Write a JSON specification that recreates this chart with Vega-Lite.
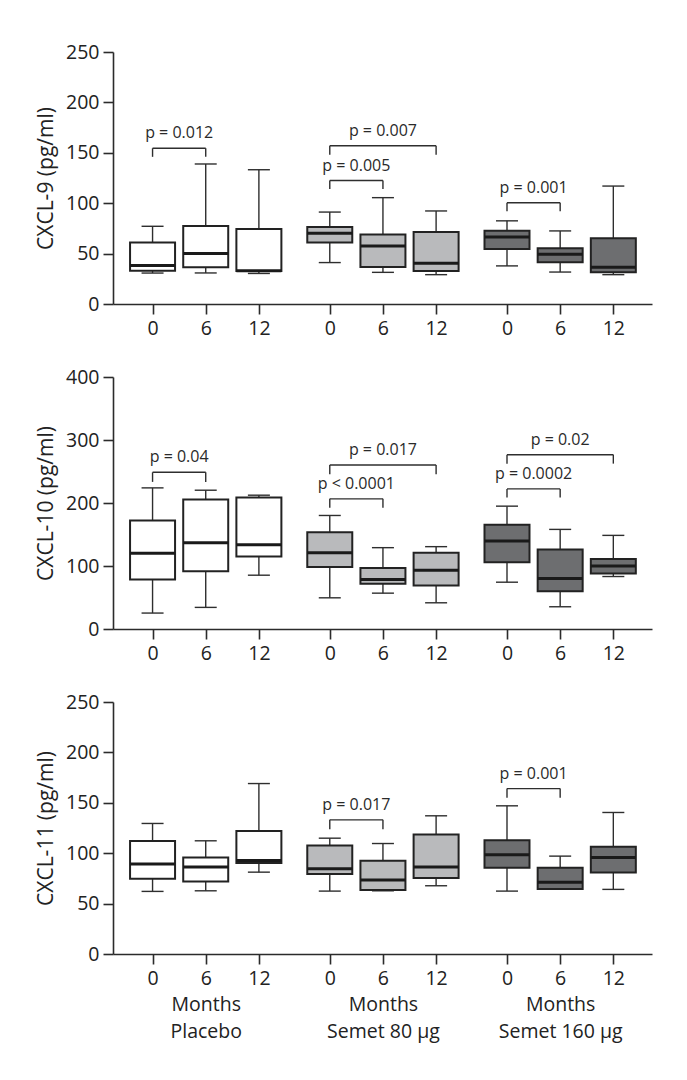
{
  "$schema": "https://vega.github.io/schema/vega-lite/v6.json",
  "padding": {"left": 35, "top": 42, "right": 5, "bottom": 5},
  "background": "white",
  "datasets": {
    "b9": [
      {"group": "Placebo", "month": 0, "pos": 0, "min": 30.7, "q1": 33, "median": 38.2, "q3": 61, "max": 77.1},
      {"group": "Placebo", "month": 6, "pos": 1, "min": 30.8, "q1": 36.5, "median": 50, "q3": 77.4, "max": 138.9},
      {"group": "Placebo", "month": 12, "pos": 2, "min": 30.3, "q1": 32.8, "median": 33, "q3": 74.3, "max": 133.2},
      {"group": "Semet 80 µg", "month": 0, "pos": 3.3333, "min": 41.1, "q1": 60.9, "median": 70.3, "q3": 76.3, "max": 91.2},
      {"group": "Semet 80 µg", "month": 6, "pos": 4.3333, "min": 31.4, "q1": 36.8, "median": 57.6, "q3": 68.9, "max": 105.5},
      {"group": "Semet 80 µg", "month": 12, "pos": 5.3333, "min": 29.1, "q1": 32.7, "median": 40.4, "q3": 71.5, "max": 92.3},
      {"group": "Semet 160 µg", "month": 0, "pos": 6.6667, "min": 37.8, "q1": 54.5, "median": 66.5, "q3": 72.6, "max": 82.5},
      {"group": "Semet 160 µg", "month": 6, "pos": 7.6667, "min": 31.7, "q1": 41.5, "median": 49.4, "q3": 55.4, "max": 72.5},
      {"group": "Semet 160 µg", "month": 12, "pos": 8.6667, "min": 29.1, "q1": 31.5, "median": 36.5, "q3": 65.2, "max": 117}
    ],
    "k9": [
      {"x1": 0, "x2": 1, "xmid": 0.5, "y": 154.5, "ylo": 146, "label": "p = 0.012"},
      {"x1": 3.3333, "x2": 5.3333, "xmid": 4.3333, "y": 157, "ylo": 148, "label": "p = 0.007"},
      {"x1": 3.3333, "x2": 4.3333, "xmid": 3.8333, "y": 122.5, "ylo": 114, "label": "p = 0.005"},
      {"x1": 6.6667, "x2": 7.6667, "xmid": 7.1667, "y": 100.5, "ylo": 92, "label": "p = 0.001"}
    ],
    "b10": [
      {"group": "Placebo", "month": 0, "pos": 0, "min": 25.3, "q1": 78.5, "median": 120.2, "q3": 172.3, "max": 224},
      {"group": "Placebo", "month": 6, "pos": 1, "min": 34.3, "q1": 91.7, "median": 137, "q3": 205.5, "max": 220.3},
      {"group": "Placebo", "month": 12, "pos": 2, "min": 85.4, "q1": 114.9, "median": 133.9, "q3": 208.7, "max": 212.4},
      {"group": "Semet 80 µg", "month": 0, "pos": 3.3333, "min": 49.5, "q1": 98.6, "median": 121.2, "q3": 153.4, "max": 180.2},
      {"group": "Semet 80 µg", "month": 6, "pos": 4.3333, "min": 56.9, "q1": 71.7, "median": 78.5, "q3": 97, "max": 129.1},
      {"group": "Semet 80 µg", "month": 12, "pos": 5.3333, "min": 41.6, "q1": 69, "median": 93.3, "q3": 121.2, "max": 130.7},
      {"group": "Semet 160 µg", "month": 0, "pos": 6.6667, "min": 74.3, "q1": 105.9, "median": 139.7, "q3": 165.5, "max": 195},
      {"group": "Semet 160 µg", "month": 6, "pos": 7.6667, "min": 35.3, "q1": 60.1, "median": 80.1, "q3": 126, "max": 158.1},
      {"group": "Semet 160 µg", "month": 12, "pos": 8.6667, "min": 83.3, "q1": 88, "median": 100.1, "q3": 111.2, "max": 148.6}
    ],
    "k10": [
      {"x1": 0, "x2": 1, "xmid": 0.5, "y": 248.7, "ylo": 233.5, "label": "p = 0.04"},
      {"x1": 3.3333, "x2": 5.3333, "xmid": 4.3333, "y": 260.3, "ylo": 245.6, "label": "p = 0.017"},
      {"x1": 3.3333, "x2": 4.3333, "xmid": 3.8333, "y": 206.6, "ylo": 192.4, "label": "p < 0.0001"},
      {"x1": 6.6667, "x2": 8.6667, "xmid": 7.6667, "y": 276.7, "ylo": 262.5, "label": "p = 0.02"},
      {"x1": 6.6667, "x2": 7.6667, "xmid": 7.1667, "y": 222.4, "ylo": 208.7, "label": "p = 0.0002"}
    ],
    "b11": [
      {"group": "Placebo", "month": 0, "pos": 0, "min": 62.1, "q1": 74.6, "median": 89.2, "q3": 112, "max": 129.5},
      {"group": "Placebo", "month": 6, "pos": 1, "min": 62.7, "q1": 72, "median": 86.2, "q3": 95.8, "max": 112.3},
      {"group": "Placebo", "month": 12, "pos": 2, "min": 81.2, "q1": 90.2, "median": 92.8, "q3": 121.9, "max": 169.1},
      {"group": "Semet 80 µg", "month": 0, "pos": 3.3333, "min": 62.4, "q1": 79.3, "median": 84.5, "q3": 107.7, "max": 114.9},
      {"group": "Semet 80 µg", "month": 6, "pos": 4.3333, "min": 62.7, "q1": 63.4, "median": 73.3, "q3": 92.5, "max": 109.6},
      {"group": "Semet 80 µg", "month": 12, "pos": 5.3333, "min": 67.7, "q1": 75.3, "median": 86.2, "q3": 118.6, "max": 137.1},
      {"group": "Semet 160 µg", "month": 0, "pos": 6.6667, "min": 62.4, "q1": 85.5, "median": 98.4, "q3": 112.9, "max": 147},
      {"group": "Semet 160 µg", "month": 6, "pos": 7.6667, "min": 64.4, "q1": 64.4, "median": 71.3, "q3": 85.5, "max": 97.1},
      {"group": "Semet 160 µg", "month": 12, "pos": 8.6667, "min": 64.1, "q1": 80.9, "median": 95.8, "q3": 106.3, "max": 140.4}
    ],
    "k11": [
      {"x1": 3.3333, "x2": 4.3333, "xmid": 3.8333, "y": 133.1, "ylo": 123.8, "label": "p = 0.017"},
      {"x1": 6.6667, "x2": 7.6667, "xmid": 7.1667, "y": 164.1, "ylo": 154.9, "label": "p = 0.001"}
    ]
  },
  "vconcat": [
    {
      "width": 539, "height": 252,
      "layer": [
        {"data": {"name": "b9"}, "mark": {"type": "rule", "color": "#2e2e2e", "strokeWidth": 1.4},
         "encoding": {
           "x": {"field": "pos", "type": "quantitative", "title": null, "scale": {"domain": [-0.65, 9.3], "nice": false, "zero": false},
                 "axis": {"values": [0, 1, 2, 3.3333, 4.3333, 5.3333, 6.6667, 7.6667, 8.6667],
                          "labelExpr": "['0','6','12'][indexof([0,3,6,10,13,16,20,23,26], round(datum.value*3)) % 3]"}},
           "y": {"field": "min", "type": "quantitative", "title": "CXCL-9 (pg/ml)", "scale": {"domain": [0, 250], "nice": false}, "axis": {"values": [0, 50, 100, 150, 200, 250]}},
           "y2": {"field": "max"}}},
        {"data": {"name": "b9"}, "mark": {"type": "tick", "orient": "horizontal", "color": "#2e2e2e", "opacity": 1, "size": 22, "thickness": 1.4},
         "encoding": {"x": {"field": "pos", "type": "quantitative", "title": null}, "y": {"field": "min", "type": "quantitative", "title": "CXCL-9 (pg/ml)"}}},
        {"data": {"name": "b9"}, "mark": {"type": "tick", "orient": "horizontal", "color": "#2e2e2e", "opacity": 1, "size": 22, "thickness": 1.4},
         "encoding": {"x": {"field": "pos", "type": "quantitative", "title": null}, "y": {"field": "max", "type": "quantitative", "title": "CXCL-9 (pg/ml)"}}},
        {"data": {"name": "b9"}, "mark": {"type": "bar", "orient": "vertical", "size": 45, "stroke": "#222", "strokeWidth": 2, "opacity": 1},
         "encoding": {"x": {"field": "pos", "type": "quantitative", "title": null},
           "y": {"field": "q1", "type": "quantitative", "title": "CXCL-9 (pg/ml)"}, "y2": {"field": "q3"},
           "fill": {"field": "group", "type": "nominal", "legend": null, "scale": {"domain": ["Placebo", "Semet 80 µg", "Semet 160 µg"], "range": ["#ffffff", "#b9babc", "#6d6e70"]}}}},
        {"data": {"name": "b9"}, "mark": {"type": "tick", "orient": "horizontal", "color": "#1a1a1a", "opacity": 1, "size": 45, "thickness": 3},
         "encoding": {"x": {"field": "pos", "type": "quantitative", "title": null}, "y": {"field": "median", "type": "quantitative", "title": "CXCL-9 (pg/ml)"}}},
        {"data": {"name": "k9"}, "mark": {"type": "rule", "color": "#2e2e2e", "strokeWidth": 1.4},
         "encoding": {"x": {"field": "x1", "type": "quantitative", "title": null}, "x2": {"field": "x2"}, "y": {"field": "y", "type": "quantitative", "title": "CXCL-9 (pg/ml)"}}},
        {"data": {"name": "k9"}, "mark": {"type": "rule", "color": "#2e2e2e", "strokeWidth": 1.4},
         "encoding": {"x": {"field": "x1", "type": "quantitative", "title": null}, "y": {"field": "ylo", "type": "quantitative", "title": "CXCL-9 (pg/ml)"}, "y2": {"field": "y"}}},
        {"data": {"name": "k9"}, "mark": {"type": "rule", "color": "#2e2e2e", "strokeWidth": 1.4},
         "encoding": {"x": {"field": "x2", "type": "quantitative", "title": null}, "y": {"field": "ylo", "type": "quantitative", "title": "CXCL-9 (pg/ml)"}, "y2": {"field": "y"}}},
        {"data": {"name": "k9"}, "mark": {"type": "text", "fontSize": 16, "color": "#2a2a2a", "baseline": "middle", "dy": -15},
         "encoding": {"x": {"field": "xmid", "type": "quantitative", "title": null}, "y": {"field": "y", "type": "quantitative", "title": "CXCL-9 (pg/ml)"}, "text": {"field": "label"}}}
      ]
    },
    {
      "width": 539, "height": 252,
      "layer": [
        {"data": {"name": "b10"}, "mark": {"type": "rule", "color": "#2e2e2e", "strokeWidth": 1.4},
         "encoding": {
           "x": {"field": "pos", "type": "quantitative", "title": null, "scale": {"domain": [-0.65, 9.3], "nice": false, "zero": false},
                 "axis": {"values": [0, 1, 2, 3.3333, 4.3333, 5.3333, 6.6667, 7.6667, 8.6667],
                          "labelExpr": "['0','6','12'][indexof([0,3,6,10,13,16,20,23,26], round(datum.value*3)) % 3]"}},
           "y": {"field": "min", "type": "quantitative", "title": "CXCL-10 (pg/ml)", "scale": {"domain": [0, 400], "nice": false}, "axis": {"values": [0, 100, 200, 300, 400]}},
           "y2": {"field": "max"}}},
        {"data": {"name": "b10"}, "mark": {"type": "tick", "orient": "horizontal", "color": "#2e2e2e", "opacity": 1, "size": 22, "thickness": 1.4},
         "encoding": {"x": {"field": "pos", "type": "quantitative", "title": null}, "y": {"field": "min", "type": "quantitative", "title": "CXCL-10 (pg/ml)"}}},
        {"data": {"name": "b10"}, "mark": {"type": "tick", "orient": "horizontal", "color": "#2e2e2e", "opacity": 1, "size": 22, "thickness": 1.4},
         "encoding": {"x": {"field": "pos", "type": "quantitative", "title": null}, "y": {"field": "max", "type": "quantitative", "title": "CXCL-10 (pg/ml)"}}},
        {"data": {"name": "b10"}, "mark": {"type": "bar", "orient": "vertical", "size": 45, "stroke": "#222", "strokeWidth": 2, "opacity": 1},
         "encoding": {"x": {"field": "pos", "type": "quantitative", "title": null},
           "y": {"field": "q1", "type": "quantitative", "title": "CXCL-10 (pg/ml)"}, "y2": {"field": "q3"},
           "fill": {"field": "group", "type": "nominal", "legend": null, "scale": {"domain": ["Placebo", "Semet 80 µg", "Semet 160 µg"], "range": ["#ffffff", "#b9babc", "#6d6e70"]}}}},
        {"data": {"name": "b10"}, "mark": {"type": "tick", "orient": "horizontal", "color": "#1a1a1a", "opacity": 1, "size": 45, "thickness": 3},
         "encoding": {"x": {"field": "pos", "type": "quantitative", "title": null}, "y": {"field": "median", "type": "quantitative", "title": "CXCL-10 (pg/ml)"}}},
        {"data": {"name": "k10"}, "mark": {"type": "rule", "color": "#2e2e2e", "strokeWidth": 1.4},
         "encoding": {"x": {"field": "x1", "type": "quantitative", "title": null}, "x2": {"field": "x2"}, "y": {"field": "y", "type": "quantitative", "title": "CXCL-10 (pg/ml)"}}},
        {"data": {"name": "k10"}, "mark": {"type": "rule", "color": "#2e2e2e", "strokeWidth": 1.4},
         "encoding": {"x": {"field": "x1", "type": "quantitative", "title": null}, "y": {"field": "ylo", "type": "quantitative", "title": "CXCL-10 (pg/ml)"}, "y2": {"field": "y"}}},
        {"data": {"name": "k10"}, "mark": {"type": "rule", "color": "#2e2e2e", "strokeWidth": 1.4},
         "encoding": {"x": {"field": "x2", "type": "quantitative", "title": null}, "y": {"field": "ylo", "type": "quantitative", "title": "CXCL-10 (pg/ml)"}, "y2": {"field": "y"}}},
        {"data": {"name": "k10"}, "mark": {"type": "text", "fontSize": 16, "color": "#2a2a2a", "baseline": "middle", "dy": -15},
         "encoding": {"x": {"field": "xmid", "type": "quantitative", "title": null}, "y": {"field": "y", "type": "quantitative", "title": "CXCL-10 (pg/ml)"}, "text": {"field": "label"}}}
      ]
    },
    {
      "width": 539, "height": 252,
      "layer": [
        {"data": {"name": "b11"}, "mark": {"type": "rule", "color": "#2e2e2e", "strokeWidth": 1.4},
         "encoding": {
           "x": {"field": "pos", "type": "quantitative", "title": null, "scale": {"domain": [-0.65, 9.3], "nice": false, "zero": false},
                 "axis": {"values": [0, 1, 2, 3.3333, 4.3333, 5.3333, 6.6667, 7.6667, 8.6667],
                          "labelExpr": "[['0'],['6','Months','Placebo'],['12'],['0'],['6','Months','Semet 80 µg'],['12'],['0'],['6','Months','Semet 160 µg'],['12']][indexof([0,3,6,10,13,16,20,23,26], round(datum.value*3))]"}},
           "y": {"field": "min", "type": "quantitative", "title": "CXCL-11 (pg/ml)", "scale": {"domain": [0, 250], "nice": false}, "axis": {"values": [0, 50, 100, 150, 200, 250]}},
           "y2": {"field": "max"}}},
        {"data": {"name": "b11"}, "mark": {"type": "tick", "orient": "horizontal", "color": "#2e2e2e", "opacity": 1, "size": 22, "thickness": 1.4},
         "encoding": {"x": {"field": "pos", "type": "quantitative", "title": null}, "y": {"field": "min", "type": "quantitative", "title": "CXCL-11 (pg/ml)"}}},
        {"data": {"name": "b11"}, "mark": {"type": "tick", "orient": "horizontal", "color": "#2e2e2e", "opacity": 1, "size": 22, "thickness": 1.4},
         "encoding": {"x": {"field": "pos", "type": "quantitative", "title": null}, "y": {"field": "max", "type": "quantitative", "title": "CXCL-11 (pg/ml)"}}},
        {"data": {"name": "b11"}, "mark": {"type": "bar", "orient": "vertical", "size": 45, "stroke": "#222", "strokeWidth": 2, "opacity": 1},
         "encoding": {"x": {"field": "pos", "type": "quantitative", "title": null},
           "y": {"field": "q1", "type": "quantitative", "title": "CXCL-11 (pg/ml)"}, "y2": {"field": "q3"},
           "fill": {"field": "group", "type": "nominal", "legend": null, "scale": {"domain": ["Placebo", "Semet 80 µg", "Semet 160 µg"], "range": ["#ffffff", "#b9babc", "#6d6e70"]}}}},
        {"data": {"name": "b11"}, "mark": {"type": "tick", "orient": "horizontal", "color": "#1a1a1a", "opacity": 1, "size": 45, "thickness": 3},
         "encoding": {"x": {"field": "pos", "type": "quantitative", "title": null}, "y": {"field": "median", "type": "quantitative", "title": "CXCL-11 (pg/ml)"}}},
        {"data": {"name": "k11"}, "mark": {"type": "rule", "color": "#2e2e2e", "strokeWidth": 1.4},
         "encoding": {"x": {"field": "x1", "type": "quantitative", "title": null}, "x2": {"field": "x2"}, "y": {"field": "y", "type": "quantitative", "title": "CXCL-11 (pg/ml)"}}},
        {"data": {"name": "k11"}, "mark": {"type": "rule", "color": "#2e2e2e", "strokeWidth": 1.4},
         "encoding": {"x": {"field": "x1", "type": "quantitative", "title": null}, "y": {"field": "ylo", "type": "quantitative", "title": "CXCL-11 (pg/ml)"}, "y2": {"field": "y"}}},
        {"data": {"name": "k11"}, "mark": {"type": "rule", "color": "#2e2e2e", "strokeWidth": 1.4},
         "encoding": {"x": {"field": "x2", "type": "quantitative", "title": null}, "y": {"field": "ylo", "type": "quantitative", "title": "CXCL-11 (pg/ml)"}, "y2": {"field": "y"}}},
        {"data": {"name": "k11"}, "mark": {"type": "text", "fontSize": 16, "color": "#2a2a2a", "baseline": "middle", "dy": -15},
         "encoding": {"x": {"field": "xmid", "type": "quantitative", "title": null}, "y": {"field": "y", "type": "quantitative", "title": "CXCL-11 (pg/ml)"}, "text": {"field": "label"}}}
      ]
    }
  ],
  "spacing": 73,
  "bounds": "flush",
  "config": {
    "view": {"stroke": null},
    "font": "Open Sans",
    "text": {"font": "Open Sans"},
    "axis": {"domainColor": "#2b2b2b", "domainWidth": 1.6, "tickColor": "#2b2b2b", "tickWidth": 1.6, "tickSize": 10,
             "labelFont": "Open Sans", "labelFontSize": 19.5, "labelColor": "#222", "labelPadding": 4,
             "titleFont": "Open Sans", "titleFontSize": 21, "titleFontWeight": "normal", "titleColor": "#222", "titlePadding": 9, "grid": false},
    "axisX": {"labelOverlap": false, "labelFlush": false, "labelBound": false, "labelLineHeight": 26.5, "labelPadding": 5},
    "axisY": {"labelOverlap": false}
  }
}
